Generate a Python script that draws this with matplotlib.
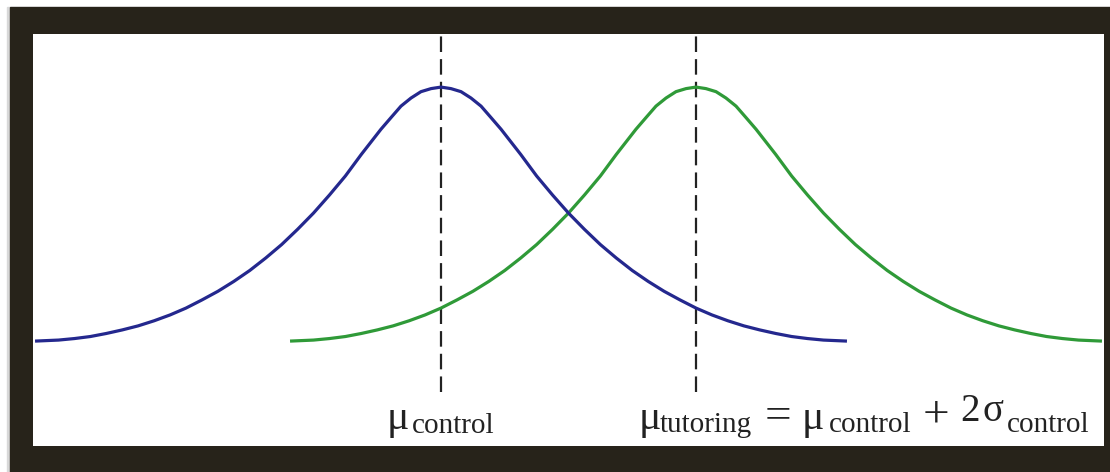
import matplotlib
matplotlib.use("Agg")
import matplotlib.pyplot as plt
from matplotlib.patches import Rectangle

# ---- data ----
# x axis in units of sigma_control, measured from mu_control
means = [0.0, 2.0]  # mu_control, mu_tutoring = mu_control + 2 sigma_control
series_names = ["control", "tutoring"]

# density profile (height relative to the peak),
# as a function of distance from each curve's mean (in sigma_control units);
# both curves in the figure have the same spread
profile_offset = [0.0, 0.078, 0.157, 0.235, 0.314, 0.392, 0.471, 0.625, 0.75, 0.875,
                  1.0, 1.125, 1.25, 1.375, 1.5, 1.625, 1.75, 1.875, 2.0, 2.125,
                  2.25, 2.375, 2.5, 2.625, 2.75, 2.875, 3.0, 3.184]
profile_height = [1.000, 0.994, 0.982, 0.957, 0.925, 0.880, 0.834, 0.735, 0.650, 0.575,
                  0.504, 0.440, 0.380, 0.327, 0.278, 0.235, 0.196, 0.162, 0.130, 0.103,
                  0.080, 0.060, 0.044, 0.030, 0.018, 0.010, 0.004, 0.000]

W, H = 1110, 472
fig = plt.figure(figsize=(W / 100, H / 100), dpi=100)
fig.patch.set_facecolor("white")
fig.patches.append(Rectangle((7 / W, 0), 3 / W, 1 - 7 / H, transform=fig.transFigure,
                             color="#d8d8d8", zorder=-20))
fig.patches.append(Rectangle((10 / W, 0), 1 - 10 / W, 1 - 7 / H, transform=fig.transFigure,
                             color="#27231a", zorder=-10))

ax = fig.add_axes([33 / W, (H - 446) / H, (1104 - 33) / W, (446 - 34) / H])
ax.set_zorder(1)
ax.set_facecolor("white")
ax.set_xlim(-3.2, 5.2)
ax.set_ylim(-0.413, 1.209)
ax.set_xticks([])
ax.set_yticks([])
for s in ax.spines.values():
    s.set_visible(False)

ax.vlines(means, -0.20, 1.209, colors="#222222", linestyles=(0, (7, 3.2)), linewidth=1.6,
          zorder=1)

colors = {"control": "#24288e", "tutoring": "#2f9a38"}
zs = {"control": 3, "tutoring": 2}
for name, m in zip(series_names, means):
    xs = [m - o for o in profile_offset[::-1]] + [m + o for o in profile_offset[1:]]
    ys = profile_height[::-1] + profile_height[1:]
    ax.plot(xs, ys, color=colors[name], lw=2.3, zorder=zs[name],
            solid_joinstyle="round", solid_capstyle="butt")

serif = "Liberation Serif"
tc = "#222222"


def put(px, py, s, size):
    fig.text(px / W, 1 - py / H, s, fontsize=size, family=serif, color=tc,
             ha="left", va="baseline", zorder=5)


# left label: mu_control
put(387, 429, "\u03bc", 30)
put(412, 433, "control", 21)

# right label: mu_tutoring = mu_control + 2 sigma_control
put(639, 429, "\u03bc", 30)
put(660, 432, "tutoring", 21)
put(765, 428, "=", 34)
put(802, 429, "\u03bc", 30)
put(829, 432, "control", 21)
put(923, 427, "+", 34)
put(960, 421, "2", 28)
put(983, 421, "\u03c3", 28)
put(1007, 432, "control", 21)

fig.savefig("out.png", dpi=100, facecolor=fig.get_facecolor())
